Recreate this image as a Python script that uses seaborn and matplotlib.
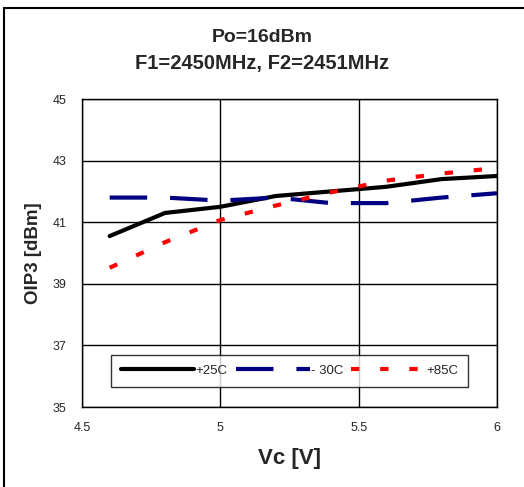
import matplotlib
matplotlib.use("Agg")
import matplotlib.pyplot as plt
import seaborn as sns
import pandas as pd
from matplotlib.patches import Rectangle

vc = [4.6, 4.8, 5.0, 5.2, 5.4, 5.6, 5.8, 6.0]
oip3_25 = [40.55, 41.3, 41.5, 41.85, 42.0, 42.15, 42.4, 42.5]
oip3_m30 = [41.8, 41.8, 41.7, 41.8, 41.62, 41.62, 41.8, 41.94]
oip3_85 = [39.52, 40.35, 41.07, 41.54, 41.97, 42.35, 42.58, 42.76]
labels = ["+25C", "- 30C", "+85C"]

df = pd.concat([
    pd.DataFrame({"Vc": vc, "OIP3": oip3_25, "T": labels[0]}),
    pd.DataFrame({"Vc": vc, "OIP3": oip3_m30, "T": labels[1]}),
    pd.DataFrame({"Vc": vc, "OIP3": oip3_85, "T": labels[2]}),
])

sns.set_style("white")
plt.rcParams['font.family'] = ['Liberation Sans', 'DejaVu Sans']

fig = plt.figure(figsize=(5.24, 4.87), dpi=100)
ax = fig.add_axes([82/524, 1-407/487, (497-82)/524, (407-99)/487])

palette = {labels[0]: "black", labels[1]: "#000080", labels[2]: "red"}
sns.lineplot(data=df, x="Vc", y="OIP3", hue="T", palette=palette, ax=ax, legend=False)
lines = ax.get_lines()
lines[0].set_linewidth(3.0)
lines[1].set_linewidth(3.0); lines[1].set_dashes([9, 5.5])
lines[2].set_linewidth(3.0); lines[2].set_dashes([2, 5])

ax.set_xlim(4.5, 6)
ax.set_ylim(35, 45)
ax.set_xticks([4.5, 5, 5.5, 6])
ax.set_xticklabels(["4.5", "5", "5.5", "6"])
ax.set_yticks([35, 37, 39, 41, 43, 45])
ax.grid(True, color="black", linewidth=1.0)
for s in ax.spines.values():
    s.set_color("black"); s.set_linewidth(1.0)
ax.tick_params(axis="both", direction="out", length=5, width=1, color="black", labelsize=9, pad=6)
ax.set_xlabel("Vc [V]", fontsize=16, fontweight="bold", labelpad=10)
ax.set_ylabel("OIP3 [dBm]", fontsize=13.5, fontweight="bold", labelpad=8)

leg = ax.legend(lines, labels, loc="lower center", bbox_to_anchor=(0.5, 0.045), ncol=3,
                frameon=True, fancybox=False, edgecolor="black", fontsize=9.5,
                handlelength=5.6, handletextpad=0.1, columnspacing=0.6, borderpad=0.75)
leg.get_frame().set_linewidth(1.0)

fig.text(0.5, 1-37/487, "Po=16dBm", ha="center", va="center", fontsize=14, fontweight="bold")
fig.text(0.5, 1-63/487, "F1=2450MHz, F2=2451MHz", ha="center", va="center", fontsize=14.5, fontweight="bold")

fig.add_artist(Rectangle((4/524, -0.1), 1.2, 1-8/487+0.1, transform=fig.transFigure,
                         fill=False, edgecolor="black", linewidth=1.5))

fig.savefig("out.png", dpi=100)
